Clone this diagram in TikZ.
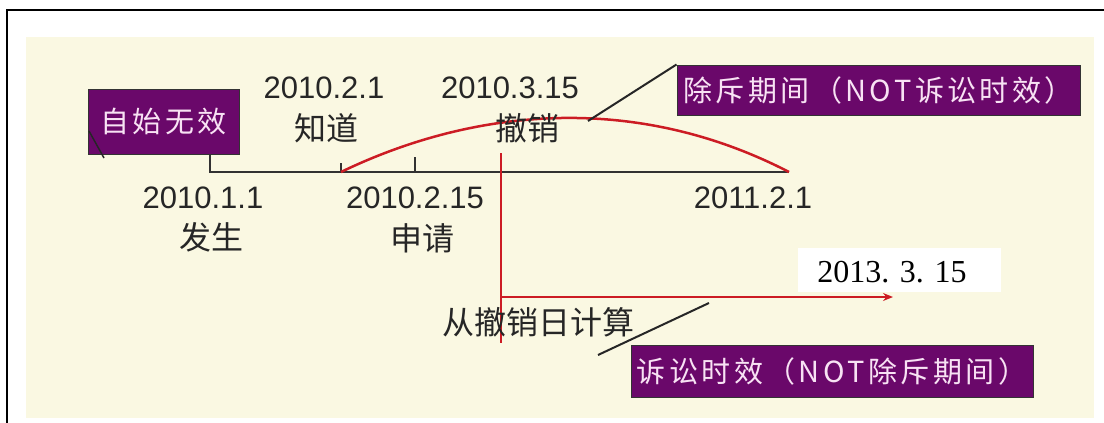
\documentclass[tikz,border=0pt]{standalone}
\usepackage{fontspec}
\setmainfont{Liberation Sans}
\newfontfamily\cjk{Noto Sans CJK SC}
\newfontfamily\cjkwide[LetterSpace=12]{Noto Sans CJK SC}
\newfontfamily\serifdig{Liberation Serif}
\usetikzlibrary{arrows.meta}
\definecolor{bgbeige}{RGB}{250,248,226}
\definecolor{boxpurple}{RGB}{106,8,106}
\definecolor{boxtext}{RGB}{248,226,244}
\definecolor{linered}{RGB}{204,28,36}
\definecolor{axisgray}{RGB}{50,50,50}
\begin{document}
\begin{tikzpicture}[x=1pt,y=-1pt,
  tagbox/.style={fill=boxpurple, draw=black!80, line width=1pt, text=boxtext,
    font=\cjkwide\fontsize{29}{31}\selectfont, inner sep=0pt, anchor=center},
  numlbl/.style={font=\fontsize{31}{33}\selectfont, text=black!85, inner sep=0pt, anchor=center},
  cjklbl/.style={font=\cjk\fontsize{32}{34}\selectfont, text=black!85, inner sep=0pt, anchor=center},
  axisline/.style={draw=axisgray, line width=2.5pt},
  redline/.style={draw=linered, line width=2pt},
  callout/.style={draw=black!85, line width=2pt}]
\useasboundingbox (0,0) rectangle (1104,423);
\fill[white] (0,0) rectangle (1104,423);
% background panel
\fill[bgbeige] (26,37) rectangle (1094,418);
% outer frame
\draw[black, line width=2pt] (7,423) -- (7,10) -- (1104,10);

% tags
\node[tagbox, minimum width=151pt, minimum height=65pt] (zs) at (163.5,121.5) {自始无效};
\node[tagbox, minimum width=403pt, minimum height=50pt] (cc) at (878.5,90) {除斥期间（NOT诉讼时效）};
\node[tagbox, minimum width=402pt, minimum height=52pt] (ss) at (832,371) {诉讼时效（NOT除斥期间）};

% timeline points
\coordinate (t1) at (210,172);
\coordinate (t2) at (341,172);
\coordinate (t3) at (415,172);
\coordinate (tend) at (789,172);
\coordinate (t2top) at (341,163);
\coordinate (t3top) at (415,157);
\draw[axisline] (t1 |- zs.south) -- (t1) -- (tend);
\draw[axisline] (t2) -- (t2top);
\draw[axisline] (t3) -- (t3top);

% stub line at the left tag
\coordinate (stubA) at (89,131);
\coordinate (stubB) at (104,158);
\draw[callout, line width=1.5pt] (stubA) -- (stubB);

% red curve
\draw[redline, line width=2.5pt] (t2) .. controls (480,105) and (640,95) .. (tend);

% red vertical + arrow
\coordinate (rv1) at (501,153);
\coordinate (rv2) at (501,343);
\coordinate (ra1) at (501,297);
\coordinate (ra2) at (893,297);
\draw[redline] (rv1) -- (rv2);
\draw[redline, -{Stealth[length=10pt,width=8pt]}] (ra1) -- (ra2);

% callouts
\coordinate (c1) at (588,121);
\draw[callout] (cc.north west) -- (c1);
\coordinate (c2a) at (709,303);
\coordinate (c2b) at (598,355);
\draw[callout] (c2a) -- (c2b);

% labels
\node[numlbl] (d21) at (324,88) {2010.2.1};
\node[cjklbl] (zd) at (326,128) {知道};
\node[numlbl] (d315) at (510,88) {2010.3.15};
\node[cjklbl] (cx) at (527,128) {撤销};
\node[numlbl] (d11) at (203,198) {2010.1.1};
\node[cjklbl] (fs) at (211,237) {发生};
\node[numlbl] (d215) at (415,198) {2010.2.15};
\node[cjklbl] (sq) at (422,238) {申请};
\node[numlbl] (d2011) at (753,198) {2011.2.1};
\node[cjklbl] (cong) at (538,322) {从撤销日计算};
\fill[white] (798,248) rectangle (1001,292);
\node[inner sep=0pt, font=\serifdig\fontsize{32}{34}\selectfont, text=black] (d2013) at (892,272) {2013. 3. 15};
\end{tikzpicture}
\end{document}
